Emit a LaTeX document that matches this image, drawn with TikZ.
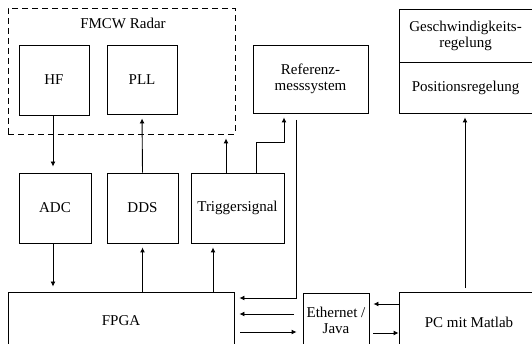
\documentclass[tikz,border=0pt]{standalone}
\usepackage{fontspec}
\setmainfont{Liberation Serif}
\usetikzlibrary{arrows.meta,calc}
\begin{document}
\begin{tikzpicture}[x=1pt,y=-1pt,
  box/.style={draw, line width=0.9pt, inner sep=0pt, align=center, font=\fontsize{15}{16}\selectfont},
  arr/.style={line width=0.9pt, -{Latex[length=5pt,width=5pt]}},
  ln/.style={line width=0.9pt},
  lbl/.style={font=\fontsize{15}{16}\selectfont}]
\useasboundingbox (0,0) rectangle (532,344);
\clip (0,0) rectangle (532,344);
% dashed radar frame
\node[draw, dash pattern=on 6pt off 4pt, line width=0.9pt, minimum width=227pt, minimum height=126pt, inner sep=0pt] (radar) at (121.5,71) {};
\node[lbl] (radarlbl) at (123,23) {FMCW Radar};
\node[box, minimum width=70pt, minimum height=70pt] (HF) at (54,80) {HF};
\node[box, minimum width=70pt, minimum height=69pt] (PLL) at (142,79.5) {PLL};
\node[box, minimum width=72pt, minimum height=70pt] (ADC) at (55,208) {ADC};
\node[box, minimum width=71pt, minimum height=70pt] (DDS) at (142.5,208) {DDS};
\node[box, minimum width=93pt, minimum height=70pt] (Trig) at (237.5,208) {Triggersignal};
\node[box, minimum width=226pt, minimum height=58pt] (FPGA) at (121,321) {FPGA};
\node[box, minimum width=115pt, minimum height=68pt] (Ref) at (310.5,79) {Referenz-\\messsystem};
\node[box, minimum width=133pt, minimum height=53pt] (Gesch) at (465.5,35.5) {Geschwindigkeits-\\regelung};
\node[box, minimum width=133pt, minimum height=51pt] (Pos) at (465.5,87.5) {Positionsregelung};
\node[box, minimum width=66pt, minimum height=70pt, anchor=north] (Eth) at (336,293) {};
\node[lbl, align=center] (Ethlbl) at (336,320.5) {Ethernet /\\Java};
\node[box, minimum width=140pt, minimum height=60pt] (PC) at (469,322) {PC mit Matlab};
% helper coordinates
\coordinate (c53) at (53,0);
\coordinate (c226) at (226,0);
\coordinate (c256) at (256,0);
\coordinate (c284) at (284,0);
\coordinate (c213) at (213,0);
\coordinate (c465) at (465,0);
\coordinate (refTop) at (296,120);
\coordinate (refBend) at (296,298);
\coordinate (y304) at (0,304);
\coordinate (ethL) at (294,314);
\coordinate (fpgaR) at (240,332);
\coordinate (ethR) at (373,333);
\coordinate (pcTop) at (465,288);
% connectors
\draw[arr, shorten >=6pt] (HF.south -| c53) -- (ADC.north -| c53);
\draw[arr, shorten >=4pt] (DDS.north) -- (PLL.south);
\draw[arr, shorten >=4pt] (Trig.north -| c226) -- (radar.south -| c226);
\draw[arr, shorten >=4pt] (Trig.north -| c256) -- (256,142) -| (Ref.south -| c284);
\draw[arr, shorten >=5pt] (refTop) -- (refBend) -- (refBend -| FPGA.east);
\draw[arr, shorten >=5pt] (ethL) -- (ethL -| FPGA.east);
\draw[arr, shorten >=6pt] (fpgaR) -- (fpgaR -| Eth.west);
\draw[arr, shorten >=4pt] (PC.west |- y304) -- (Eth.east |- y304);
\draw[arr] (ethR) -- (ethR -| PC.west);
\draw[arr, shorten >=4pt] (pcTop) -- (Pos.south -| c465);
\draw[arr, shorten >=5pt] (ADC.south -| c53) -- (FPGA.north -| c53);
\draw[arr, shorten >=4pt] (FPGA.north -| DDS.south) -- (DDS.south);
\draw[arr, shorten >=4pt] (FPGA.north -| c213) -- (Trig.south -| c213);
\end{tikzpicture}
\end{document}
